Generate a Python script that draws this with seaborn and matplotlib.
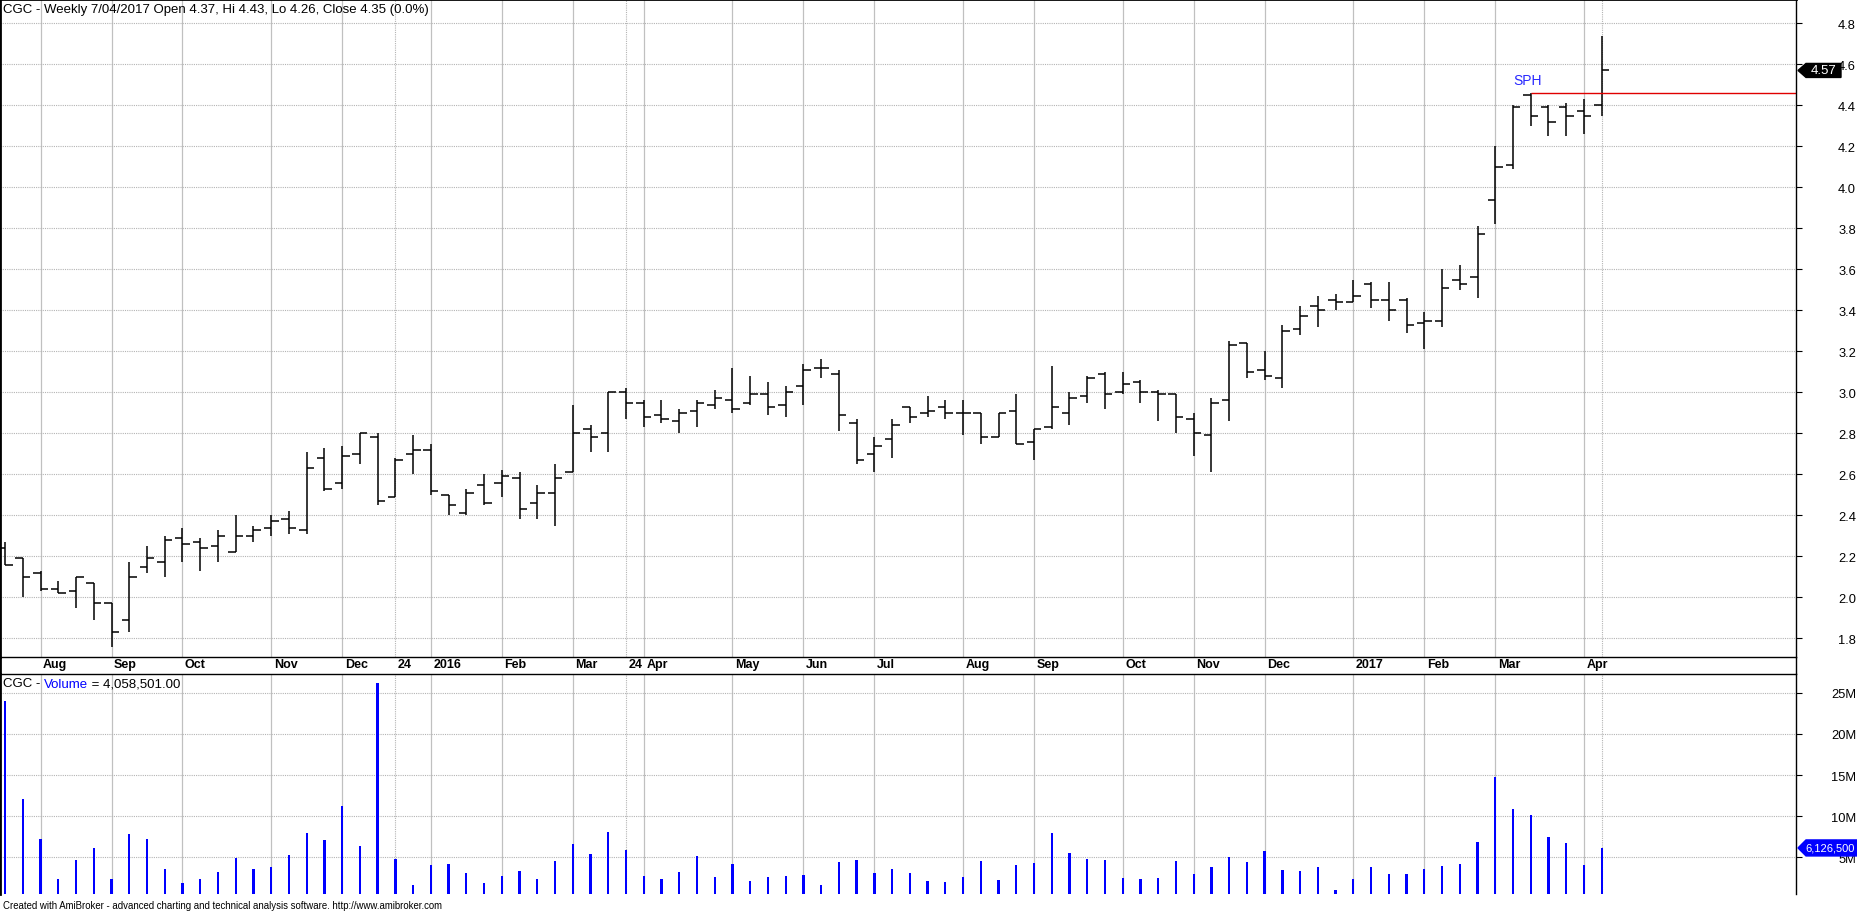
import numpy as np
import pandas as pd
import matplotlib
matplotlib.use('Agg')
import matplotlib.pyplot as plt
import matplotlib.transforms as mtransforms
from matplotlib.patches import Polygon
from matplotlib.lines import Line2D
import seaborn as sns

# weekly OHLC, CGC, week ending 24 Jul 2015 .. 13 Apr 2017
opens = [2.24, 2.19, 2.12, 2.04, 2.03, 2.07, 1.97, 1.89, 2.15, 2.17,
         2.29, 2.27, 2.25, 2.22, 2.30, 2.34, 2.38, 2.33, 2.68, 2.56,
         2.70, 2.78, 2.49, 2.70, 2.72, 2.50, 2.41, 2.55, 2.56, 2.58,
         2.46, 2.51, 2.61, 2.82, 2.80, 3.00, 2.95, 2.89, 2.86, 2.91,
         2.94, 2.96, 2.95, 2.99, 2.94, 3.03, 3.12, 3.09, 2.85, 2.70,
         2.77, 2.93, 2.90, 2.93, 2.90, 2.90, 2.78, 2.91, 2.76, 2.83,
         2.90, 2.98, 3.09, 3.00, 3.05, 3.00, 2.99, 2.87, 2.79, 2.96,
         3.24, 3.11, 3.07, 3.31, 3.42, 3.45, 3.44, 3.53, 3.45, 3.45,
         3.34, 3.35, 3.55, 3.56, 3.94, 4.11, 4.45, 4.39, 4.39, 4.37,
         4.40]
highs = [2.27, 2.19, 2.13, 2.08, 2.10, 2.07, 1.97, 2.17, 2.25, 2.30,
         2.34, 2.29, 2.33, 2.40, 2.35, 2.40, 2.42, 2.71, 2.73, 2.74,
         2.80, 2.80, 2.68, 2.79, 2.75, 2.50, 2.53, 2.60, 2.62, 2.61,
         2.55, 2.65, 2.94, 2.84, 3.00, 3.02, 2.96, 2.96, 2.92, 2.96,
         3.01, 3.12, 3.08, 3.05, 3.03, 3.14, 3.16, 3.11, 2.87, 2.78,
         2.87, 2.93, 2.98, 2.96, 2.96, 2.90, 2.90, 2.99, 2.82, 3.13,
         3.00, 3.08, 3.10, 3.10, 3.06, 3.01, 2.99, 2.90, 2.97, 3.25,
         3.24, 3.20, 3.33, 3.42, 3.47, 3.48, 3.55, 3.54, 3.54, 3.46,
         3.39, 3.60, 3.62, 3.81, 4.20, 4.40, 4.46, 4.40, 4.41, 4.43,
         4.74]
lows = [2.16, 2.00, 2.03, 2.02, 1.95, 1.89, 1.76, 1.83, 2.12, 2.10,
        2.17, 2.13, 2.17, 2.22, 2.27, 2.30, 2.31, 2.31, 2.52, 2.53,
        2.65, 2.45, 2.49, 2.60, 2.50, 2.40, 2.40, 2.45, 2.49, 2.38,
        2.38, 2.35, 2.61, 2.71, 2.71, 2.87, 2.83, 2.85, 2.80, 2.83,
        2.92, 2.90, 2.94, 2.89, 2.88, 2.94, 3.07, 2.81, 2.65, 2.61,
        2.68, 2.85, 2.88, 2.87, 2.79, 2.75, 2.78, 2.75, 2.67, 2.82,
        2.84, 2.95, 2.92, 2.99, 2.95, 2.86, 2.80, 2.69, 2.61, 2.86,
        3.07, 3.06, 3.02, 3.28, 3.32, 3.40, 3.44, 3.41, 3.35, 3.29,
        3.21, 3.32, 3.50, 3.46, 3.82, 4.09, 4.30, 4.25, 4.25, 4.26,
        4.35]
closes = [2.16, 2.10, 2.04, 2.02, 2.10, 1.97, 1.83, 2.10, 2.19, 2.28,
          2.26, 2.24, 2.30, 2.30, 2.33, 2.37, 2.34, 2.63, 2.53, 2.69,
          2.80, 2.47, 2.67, 2.72, 2.52, 2.45, 2.51, 2.46, 2.59, 2.43,
          2.51, 2.58, 2.80, 2.78, 3.00, 2.95, 2.88, 2.87, 2.90, 2.95,
          2.97, 2.92, 2.99, 2.93, 3.00, 3.11, 3.12, 2.89, 2.67, 2.74,
          2.84, 2.88, 2.91, 2.90, 2.90, 2.78, 2.90, 2.75, 2.82, 2.93,
          2.97, 3.07, 2.99, 3.04, 3.00, 2.99, 2.88, 2.80, 2.95, 3.23,
          3.10, 3.08, 3.30, 3.37, 3.40, 3.44, 3.47, 3.45, 3.40, 3.33,
          3.35, 3.51, 3.53, 3.77, 4.10, 4.39, 4.35, 4.32, 4.35, 4.35,
          4.57]
# weekly volume, millions of shares
volumes = [23.98, 12.03, 7.23, 2.35, 4.67, 6.13, 2.35, 7.84, 7.23, 3.57,
           1.87, 2.35, 3.25, 4.91, 3.57, 3.82, 5.28, 7.96, 7.11, 11.26,
           6.38, 26.26, 4.79, 1.62, 4.06, 4.18, 3.09, 1.87, 2.72, 3.33,
           2.35, 4.55, 6.62, 5.40, 8.09, 5.89, 2.72, 2.35, 3.21, 5.16,
           2.60, 4.18, 2.11, 2.60, 2.72, 2.84, 1.62, 4.43, 4.67, 3.09,
           3.57, 3.09, 2.11, 1.99, 2.60, 4.55, 2.23, 4.06, 4.30, 7.96,
           5.52, 4.79, 4.67, 2.47, 2.35, 2.47, 4.55, 2.96, 3.82, 5.04,
           4.43, 5.77, 3.45, 3.33, 3.82, 1.01, 2.35, 3.82, 2.96, 2.96,
           3.57, 3.94, 4.18, 6.87, 14.79, 10.89, 10.16, 7.48, 6.74, 4.06,
           6.1265]

month_idx = [2, 6, 10, 15, 19, 22, 24, 28, 32, 35, 36, 41, 45, 49, 54, 58,
             63, 67, 71, 76, 80, 84, 89]
month_lbl = ['Aug', 'Sep', 'Oct', 'Nov', 'Dec', '24', '2016', 'Feb', 'Mar',
             '24', 'Apr', 'May', 'Jun', 'Jul', 'Aug', 'Sep', 'Oct', 'Nov',
             'Dec', '2017', 'Feb', 'Mar', 'Apr']
price_ticks = [1.8, 2.0, 2.2, 2.4, 2.6, 2.8, 3.0, 3.2, 3.4, 3.6, 3.8, 4.0,
               4.2, 4.4, 4.6, 4.8]
vol_ticks = [5, 10, 15, 20, 25]
sph_idx = 86
cursor_idx = 90

sns.set_style('white')
plt.rcParams['font.family'] = ['Liberation Sans', 'DejaVu Sans']

W, H = 1858, 912
fig = plt.figure(figsize=(W / 100, H / 100), dpi=100)
ax_p = fig.add_axes([0, 1 - 658 / H, 1796 / W, 658 / H])
ax_v = fig.add_axes([0, 1 - 895 / H, 1796 / W, 220 / H])

n = len(opens)
idx = np.arange(n)
xlim = (-5.1 / 17.74, (1796 - 5.1) / 17.74)

# grid: solid month lines, dotted short-week / cursor lines
for ax in (ax_p, ax_v):
    for i, lbl in zip(month_idx, month_lbl):
        if lbl == '24':
            ax.axvline(i, color='#b4b4b4', lw=0.8, ls=(0, (1, 1)), zorder=0)
        else:
            ax.axvline(i, color='#c0c0c0', lw=0.9, zorder=0)
    ax.axvline(cursor_idx, color='#b4b4b4', lw=0.8, ls=(0, (1, 1)), zorder=0)
    ax.yaxis.grid(True, color='#b4b4b4', lw=0.8, ls=(0, (1, 1)))
    ax.xaxis.grid(False)
    ax.set_axisbelow(True)
    for s in ax.spines.values():
        s.set_color('black')
        s.set_linewidth(1)

# price bars
ax_p.vlines(idx, lows, highs, color='black', lw=1.1)
ax_p.hlines(opens, idx - 0.42, idx, color='black', lw=1.1)
ax_p.hlines(closes, idx, idx + 0.42, color='black', lw=1.1)

sph_level = highs[sph_idx]
ax_p.hlines(sph_level, sph_idx, xlim[1], color='#e00000', lw=1)
ax_p.text(sph_idx - 1, sph_level + 0.063, 'SPH', color='#2828ff', fontsize=10,
          va='center', ha='left')

ax_p.set_xlim(*xlim)
ax_p.set_ylim(1.7088, 4.9185)
ax_p.set_yticks(price_ticks)
ax_p.set_yticklabels([f'{v:.1f}' for v in price_ticks])
ax_p.spines['top'].set_linewidth(2)
ax_p.spines['left'].set_linewidth(2)

ax_p.set_xticks(month_idx)
ax_p.set_xticklabels(month_lbl)
ax_p.tick_params(axis='x', direction='out', length=3.6, width=0.8, pad=-3.2,
                 labelsize=9, colors='black')
off = mtransforms.ScaledTranslation(2.5 / 100, 0, fig.dpi_scale_trans)
for lbl in ax_p.get_xticklabels():
    lbl.set_ha('left')
    lbl.set_fontweight('bold')
    lbl.set_transform(lbl.get_transform() + off)

# volume
vol_df = pd.DataFrame({'bar': idx, 'volume': volumes})
sns.barplot(data=vol_df, x='bar', y='volume', native_scale=True, width=0.13,
            color='#0000ff', saturation=1, errorbar=None, linewidth=0, ax=ax_v)
ax_v.set(xlabel='', ylabel='')
ax_v.set_xlim(*xlim)
ax_v.set_ylim(0.52, 27.3)
ax_v.set_xticks([])
ax_v.set_yticks(vol_ticks)
ax_v.set_yticklabels([f'{v}M' for v in vol_ticks])
ax_v.spines['bottom'].set_visible(False)
ax_v.spines['left'].set_linewidth(2)

for ax in (ax_p, ax_v):
    ax.yaxis.tick_right()
    ax.tick_params(axis='y', direction='out', length=4.3, width=0.8, pad=38.9,
                   labelsize=9.3, colors='black')
    for lbl in ax.get_yticklabels():
        lbl.set_ha('right')

# borders across the date strip
for xf in (0.5 / W, 1796 / W):
    fig.add_artist(Line2D([xf, xf], [1 - 658 / H, 1 - 675 / H], color='black',
                          lw=1 if xf > 0.5 else 2))

# last value markers
tp = mtransforms.blended_transform_factory(fig.transFigure, ax_p.transData)
last_close = closes[-1]
hp = 7 / 205
box_p = Polygon([(1798 / W, last_close), (1806 / W, last_close + hp),
                 (1841 / W, last_close + hp), (1841 / W, last_close - hp),
                 (1806 / W, last_close - hp)], closed=True, fc='black', ec='black',
                transform=tp, clip_on=False, zorder=10)
fig.add_artist(box_p)
fig.text(1824 / W, last_close, f'{last_close:.2f}', transform=tp, color='white',
         fontsize=9.5, ha='center', va='center', zorder=11)

tv = mtransforms.blended_transform_factory(fig.transFigure, ax_v.transData)
last_vol = volumes[-1]
hv = 8 / 8.216
box_v = Polygon([(1798 / W, last_vol), (1806 / W, last_vol + hv),
                 (1870 / W, last_vol + hv), (1870 / W, last_vol - hv),
                 (1806 / W, last_vol - hv)], closed=True, fc='#0000ff', ec='#0000ff',
                transform=tv, clip_on=False, zorder=10)
fig.add_artist(box_v)
fig.text(1805 / W, last_vol, f'{last_vol * 1e6:,.0f}', transform=tv, color='white',
         fontsize=8, ha='left', va='center', zorder=11)

# header texts
fig.text(3 / W, 1 - 9.5 / H,
         'CGC - Weekly 7/04/2017 Open 4.37, Hi 4.43, Lo 4.26, Close 4.35 (0.0%)',
         fontsize=9.5, color='black', va='center', ha='left')
t1 = fig.text(3 / W, 1 - 684.5 / H, 'CGC - ', fontsize=9.5, color='black',
              va='center', ha='left')
t2 = fig.text(0, 0, 'Volume', fontsize=9.5, color='#0000ff', va='bottom', ha='left')
t3 = fig.text(0, 0, ' = 4,058,501.00', fontsize=9.5, color='black', va='bottom', ha='left')
fig.canvas.draw()
r = fig.canvas.get_renderer()
bb = t1.get_window_extent(r)
t2.set_position((bb.x1 / W, bb.y0 / H))
bb2 = t2.get_window_extent(r)
t3.set_position((bb2.x1 / W, bb.y0 / H))

fig.text(3 / W, 1 - 906 / H,
         'Created with AmiBroker - advanced charting and technical analysis software. http://www.amibroker.com',
         fontsize=6.9, color='black', va='center', ha='left')

fig.savefig('out.png', dpi=100)
